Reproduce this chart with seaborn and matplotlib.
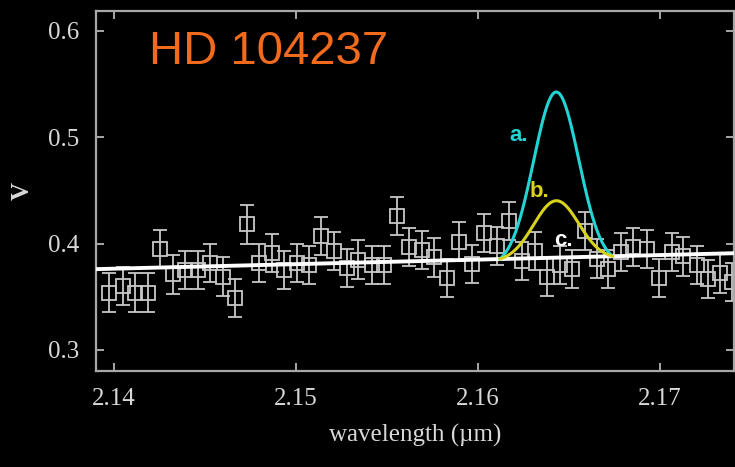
import numpy as np
import pandas as pd
import seaborn as sns
import matplotlib.pyplot as plt

wavelength = [2.13973, 2.14049, 2.14115, 2.14187, 2.14253, 2.14324, 2.14390, 2.14462,
              2.14527, 2.14599, 2.14665, 2.14731, 2.14797, 2.14868, 2.14934, 2.15005,
              2.15071, 2.15137, 2.15209, 2.15280, 2.15341, 2.15418, 2.15484, 2.15555,
              2.15621, 2.15692, 2.15758, 2.15830, 2.15896, 2.15967, 2.16033, 2.16104,
              2.16170, 2.16242, 2.16313, 2.16379, 2.16451, 2.16516, 2.16588, 2.16654,
              2.16714, 2.16786, 2.16852, 2.16929, 2.16995, 2.17066, 2.17126, 2.17203,
              2.17264, 2.17330, 2.17396]
visibility = [0.354, 0.360, 0.354, 0.354, 0.395, 0.371, 0.375, 0.375, 0.382, 0.369,
              0.349, 0.418, 0.382, 0.391, 0.375, 0.382, 0.380, 0.407, 0.393, 0.377,
              0.385, 0.380, 0.380, 0.426, 0.397, 0.394, 0.387, 0.368, 0.402, 0.381,
              0.410, 0.398, 0.421, 0.384, 0.393, 0.369, 0.380, 0.376, 0.412, 0.386,
              0.376, 0.392, 0.397, 0.395, 0.368, 0.392, 0.388, 0.380, 0.367, 0.372,
              0.364]
v_err = 0.018

# continuum fit (white line) end points
fit_wave = [2.1390, 2.1741]
fit_v = [0.376, 0.391]

# Br-gamma line models a. and b. (centre, sigma, amplitude, half range)
line_center = 2.1643
line_sigma = 0.00124
amp_a = 0.163
amp_b = 0.056
line_half = 0.0031

bg = "black"
fg = "#d8d8d8"
sns.set_theme(style="ticks", rc={
    "figure.facecolor": bg, "axes.facecolor": bg, "axes.edgecolor": "#a8a8a8",
    "axes.linewidth": 1.6, "xtick.color": "#a8a8a8", "ytick.color": "#a8a8a8",
    "xtick.labelcolor": fg, "ytick.labelcolor": fg, "text.color": fg,
    "axes.labelcolor": fg,
})
plt.rcParams["font.family"] = ["Liberation Serif", "DejaVu Serif"]

fig = plt.figure(figsize=(7.35, 4.67), dpi=100)
ax = fig.add_axes([96 / 735, 1 - 371 / 467, 638 / 735, 360 / 467])

ax.errorbar(wavelength, visibility, yerr=v_err, fmt="s", ms=10, mfc="none",
            mec="#c8c8c8", mew=1.3, ecolor="#c8c8c8", elinewidth=1.3,
            capsize=5, capthick=1.3, zorder=2)

fit = pd.DataFrame({"wavelength": fit_wave, "V": fit_v})
sns.lineplot(data=fit, x="wavelength", y="V", color="white", lw=2.8, ax=ax, zorder=3)

# model curves on top of the continuum
wl = np.linspace(line_center - line_half, line_center + line_half, 200)
base = np.interp(wl, fit_wave, fit_v)
prof = np.exp(-0.5 * ((wl - line_center) / line_sigma) ** 2)
prof = prof - prof[0]
sns.lineplot(x=wl, y=base + amp_a * prof, color="#22d4d4", lw=2.2, ax=ax, zorder=4)
sns.lineplot(x=wl, y=base + amp_b * prof, color="#d6d21e", lw=2.2, ax=ax, zorder=4)

lab = dict(family=["Liberation Sans", "DejaVu Sans"], fontweight="bold",
           fontsize=16, ha="center", va="center")
ax.text(2.16224, 0.5013, "a.", color="#22d4d4", **lab)
ax.text(2.16340, 0.4486, "b.", color="#d6d21e", **lab)
ax.text(2.16472, 0.4034, "c.", color="white", **lab)

ax.text(2.14190, 0.5800, "HD 104237", color="#f26b1d", fontsize=34,
        family=["Liberation Sans", "DejaVu Sans"], va="center")

ax.set_xlim(2.13901, 2.17407)
ax.set_ylim(0.2802, 0.6188)
ax.set_xticks([2.14, 2.15, 2.16, 2.17])
ax.set_yticks([0.3, 0.4, 0.5, 0.6])
ax.set_xticklabels(["2.14", "2.15", "2.16", "2.17"])
ax.set_yticklabels(["0.3", "0.4", "0.5", "0.6"])
ax.tick_params(direction="in", length=6, width=1.4, top=True, right=True,
               labelsize=18, pad=12)
ax.set_xlabel("wavelength (µm)", fontsize=18, labelpad=10)
ax.set_ylabel("V", fontsize=18, labelpad=10, fontweight="bold")
for s in ax.spines.values():
    s.set_visible(True)

fig.savefig("out.png", dpi=100, facecolor=bg)
